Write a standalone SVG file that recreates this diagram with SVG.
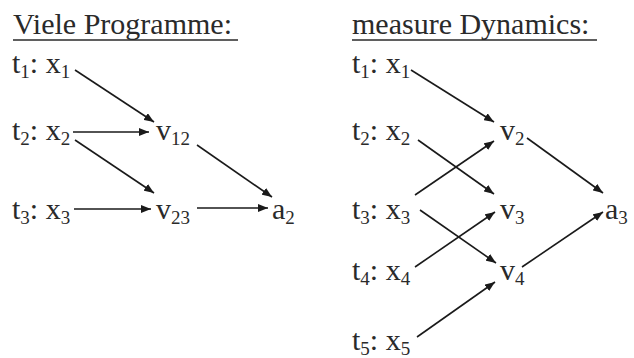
<svg xmlns="http://www.w3.org/2000/svg" width="634" height="358" viewBox="0 0 634 358">
<style>
text{font-family:'Liberation Serif','Times New Roman','DejaVu Serif',serif;fill:#2a2a2a}
.t{font-size:30px}
.h{font-size:30px}
.s{font-size:19px}
.e{stroke:#1a1a1a;stroke-width:1.6;fill:none;marker-end:url(#ah)}
.u{stroke:#2a2a2a;stroke-width:1.5}
</style>
<defs>
<marker id="ah" viewBox="0 0 10 8" refX="10" refY="4" markerWidth="10" markerHeight="8" markerUnits="userSpaceOnUse" orient="auto">
<path d="M0,0 L10,4 L0,8 z" fill="#1a1a1a"/>
</marker>
</defs>
<rect width="634" height="358" fill="#fff"/>
<g id="title-left"><text class="h" font-family="Liberation Serif, serif" x="13" y="34">Viele Programme:</text><line class="u" x1="13" y1="40" x2="238" y2="40"/></g>
<g id="title-right"><text class="h" font-family="Liberation Serif, serif" x="352" y="34">measure Dynamics:</text><line class="u" x1="352" y1="40" x2="597" y2="40"/></g>

<g id="L-x1"><text class="t" x="12" y="73">t<tspan class="s" dy="5">1</tspan><tspan dy="-5">: x</tspan><tspan class="s" dy="5">1</tspan></text></g>
<g id="L-x2"><text class="t" x="12" y="140">t<tspan class="s" dy="5">2</tspan><tspan dy="-5">: x</tspan><tspan class="s" dy="5">2</tspan></text></g>
<g id="L-x3"><text class="t" x="12" y="219">t<tspan class="s" dy="5">3</tspan><tspan dy="-5">: x</tspan><tspan class="s" dy="5">3</tspan></text></g>
<g id="L-v12"><text class="t" x="156" y="140">v<tspan class="s" dy="5">12</tspan></text></g>
<g id="L-v23"><text class="t" x="156" y="219">v<tspan class="s" dy="5">23</tspan></text></g>
<g id="L-a2"><text class="t" x="272" y="219">a<tspan class="s" dy="5">2</tspan></text></g>

<g id="R-x1"><text class="t" x="352" y="73">t<tspan class="s" dy="5">1</tspan><tspan dy="-5">: x</tspan><tspan class="s" dy="5">1</tspan></text></g>
<g id="R-x2"><text class="t" x="352" y="140">t<tspan class="s" dy="5">2</tspan><tspan dy="-5">: x</tspan><tspan class="s" dy="5">2</tspan></text></g>
<g id="R-x3"><text class="t" x="352" y="219">t<tspan class="s" dy="5">3</tspan><tspan dy="-5">: x</tspan><tspan class="s" dy="5">3</tspan></text></g>
<g id="R-x4"><text class="t" x="352" y="280">t<tspan class="s" dy="5">4</tspan><tspan dy="-5">: x</tspan><tspan class="s" dy="5">4</tspan></text></g>
<g id="R-x5"><text class="t" x="352" y="350">t<tspan class="s" dy="5">5</tspan><tspan dy="-5">: x</tspan><tspan class="s" dy="5">5</tspan></text></g>
<g id="R-v2"><text class="t" x="500" y="140">v<tspan class="s" dy="5">2</tspan></text></g>
<g id="R-v3"><text class="t" x="500" y="219">v<tspan class="s" dy="5">3</tspan></text></g>
<g id="R-v4"><text class="t" x="500" y="280">v<tspan class="s" dy="5">4</tspan></text></g>
<g id="R-a3"><text class="t" x="605" y="219">a<tspan class="s" dy="5">3</tspan></text></g>

<g id="connectors">
<line class="e" x1="75" y1="70" x2="154" y2="122"/>
<line class="e" x1="73" y1="132" x2="149" y2="132"/>
<line class="e" x1="75" y1="140" x2="154" y2="193"/>
<line class="e" x1="74" y1="209" x2="151" y2="209"/>
<line class="e" x1="197" y1="145" x2="272" y2="197"/>
<line class="e" x1="197" y1="208" x2="268" y2="208"/>

<line class="e" x1="411" y1="70" x2="494" y2="122"/>
<line class="e" x1="418" y1="140" x2="494" y2="194"/>
<line class="e" x1="415" y1="195" x2="494" y2="141"/>
<line class="e" x1="420" y1="210" x2="496" y2="263"/>
<line class="e" x1="415" y1="267" x2="495" y2="212"/>
<line class="e" x1="417" y1="337" x2="495" y2="282"/>
<line class="e" x1="527" y1="138" x2="603" y2="193"/>
<line class="e" x1="522" y1="267" x2="603" y2="212"/>
</g>
</svg>
